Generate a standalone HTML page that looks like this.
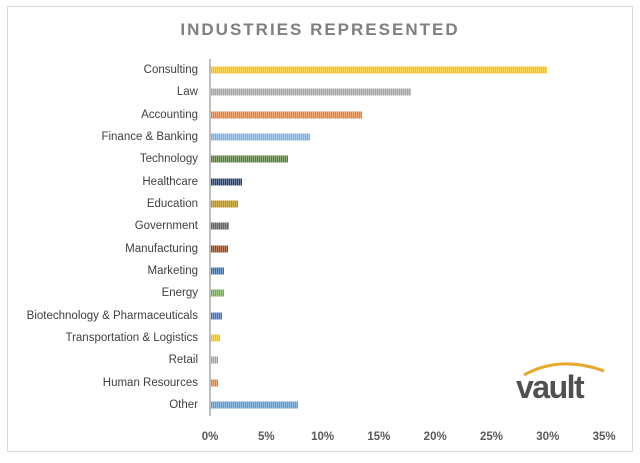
<!DOCTYPE html>
<html><head><style>
body{margin:0;background:#fff;width:640px;height:463px;position:relative;font-family:"Liberation Sans",sans-serif;overflow:hidden}
.frame{position:absolute;left:7px;top:6px;width:624px;height:444px;border:1px solid #d9d9d9}
.title{position:absolute;left:0;width:640px;top:20px;text-align:center;font-size:17px;font-weight:bold;color:#7f7f7f;letter-spacing:2px}
.lab{position:absolute;right:442px;font-size:11.5px;color:#404040;white-space:nowrap;transform:translateY(-50%)}
.bar{position:absolute;left:211px;height:7px;transform:translateY(-50%)}
.tick{position:absolute;top:431px;font-size:11.5px;font-weight:bold;color:#595959;transform:translateX(-50%)}
.axis{position:absolute;left:209px;top:59px;width:1.5px;height:357px;background:#bfbfbf}
</style></head><body>
<div class="frame"></div>
<div class="title">INDUSTRIES REPRESENTED</div>
<div class="axis"></div>
<div id="c"></div>
<svg style="position:absolute;left:510px;top:355px" width="100" height="50">
<path d="M14,20 Q50,0 94,16" stroke="#e8a82a" stroke-width="3" fill="none"/>
<text x="6" y="43" font-family="Liberation Sans,sans-serif" font-size="32" font-weight="bold" fill="#505050" letter-spacing="-1.5">vault</text>
</svg>
<script>
var d=[["Consulting",547,"#FFC000"],["Law",411,"#A5A5A5"],["Accounting",362,"#ED7D31"],["Finance & Banking",310,"#7DB1E3"],["Technology",288,"#548235"],["Healthcare",242,"#264478"],["Education",238,"#BF9000"],["Government",229,"#636363"],["Manufacturing",228,"#9E480E"],["Marketing",224,"#2E75B6"],["Energy",224,"#70AD47"],["Biotechnology & Pharmaceuticals",222,"#4472C4"],["Transportation & Logistics",220,"#FFC000"],["Retail",218,"#A5A5A5"],["Human Resources",218,"#ED7D31"],["Other",298,"#5B9BD5"]];
var h="";
d.forEach(function(r,i){var y=70+i*22.33;
h+='<div class="lab" style="top:'+y+'px">'+r[0].replace("&","&amp;")+'</div>';
h+='<div class="bar" style="top:'+y+'px;width:'+(r[1]-211)+'px;background:'+r[2]+';"><div style="width:100%;height:100%;background:repeating-linear-gradient(90deg,rgba(0,0,0,0) 0 1px,rgba(255,255,255,0.35) 1px 2px)"></div></div>';});
for(var k=0;k<=7;k++){h+='<div class="tick" style="left:'+(210+k*56.3)+'px">'+(k*5)+'%</div>';}
document.getElementById("c").innerHTML=h;
</script>
</body></html>
